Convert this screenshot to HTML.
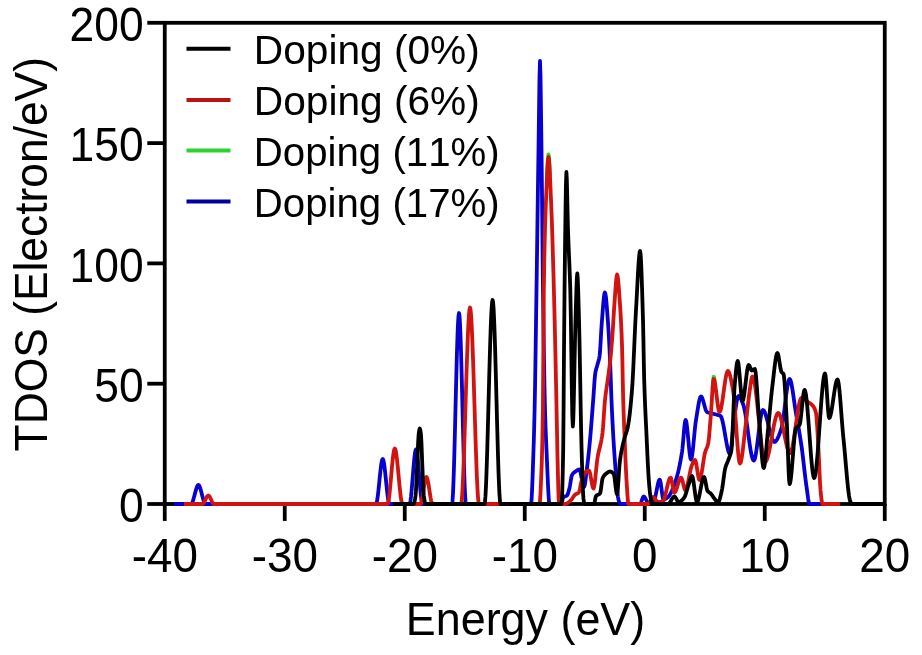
<!DOCTYPE html>
<html><head><meta charset="utf-8"><title>TDOS</title><style>html,body{margin:0;padding:0;background:#fff;}svg{display:block;will-change:transform;}</style></head><body>
<svg width="922" height="655" viewBox="0 0 922 655">
<rect width="922" height="655" fill="#fff"/>
<rect x="164.75" y="22.8" width="720.0" height="481.2" fill="none" stroke="#000" stroke-width="3.8"/>
<line x1="147.3" y1="504.00" x2="164.75" y2="504.00" stroke="#000" stroke-width="3.8"/>
<line x1="147.3" y1="383.70" x2="164.75" y2="383.70" stroke="#000" stroke-width="3.8"/>
<line x1="147.3" y1="263.40" x2="164.75" y2="263.40" stroke="#000" stroke-width="3.8"/>
<line x1="147.3" y1="143.10" x2="164.75" y2="143.10" stroke="#000" stroke-width="3.8"/>
<line x1="147.3" y1="22.80" x2="164.75" y2="22.80" stroke="#000" stroke-width="3.8"/>
<line x1="164.75" y1="504.0" x2="164.75" y2="520.9" stroke="#000" stroke-width="3.8"/>
<line x1="284.75" y1="504.0" x2="284.75" y2="520.9" stroke="#000" stroke-width="3.8"/>
<line x1="404.75" y1="504.0" x2="404.75" y2="520.9" stroke="#000" stroke-width="3.8"/>
<line x1="524.75" y1="504.0" x2="524.75" y2="520.9" stroke="#000" stroke-width="3.8"/>
<line x1="644.75" y1="504.0" x2="644.75" y2="520.9" stroke="#000" stroke-width="3.8"/>
<line x1="764.75" y1="504.0" x2="764.75" y2="520.9" stroke="#000" stroke-width="3.8"/>
<line x1="884.75" y1="504.0" x2="884.75" y2="520.9" stroke="#000" stroke-width="3.8"/>
<g fill="none" stroke-width="3.8" stroke-linejoin="round" stroke-linecap="butt">
<path d="M174,504 L191,504 L191.49,503.76 L191.99,503.08 L192.48,502.02 L192.97,500.67 L193.47,499.07 L193.96,497.31 L194.45,495.45 L194.95,493.55 L195.44,491.69 L195.93,489.93 L196.43,488.33 L196.92,486.98 L197.41,485.92 L197.91,485.24 L198.4,485 L198.87,485.24 L199.35,485.92 L199.82,486.98 L200.29,488.33 L200.77,489.93 L201.24,491.69 L201.71,493.55 L202.19,495.45 L202.66,497.31 L203.13,499.07 L203.61,500.67 L204.08,502.02 L204.55,503.08 L205.03,503.76 L205.5,504 L376,504 L376.48,503.34 L376.96,501.51 L377.44,498.69 L377.91,495.08 L378.39,490.88 L378.87,486.29 L379.35,481.5 L379.83,476.71 L380.31,472.12 L380.79,467.92 L381.26,464.31 L381.74,461.49 L382.22,459.66 L382.7,459 L383.19,459.66 L383.67,461.49 L384.16,464.31 L384.64,467.92 L385.13,472.12 L385.61,476.71 L386.1,481.5 L386.59,486.29 L387.07,490.88 L387.56,495.08 L388.04,498.69 L388.53,501.51 L389.01,503.34 L389.5,504 L409.5,504 L410,503.08 L410.5,500.53 L411,496.63 L411.5,491.7 L412,486.02 L412.5,479.89 L413,473.61 L413.5,467.48 L414,461.8 L414.5,456.87 L415,452.97 L415.5,450.42 L416,449.5 L416.5,450.42 L417,452.97 L417.5,456.87 L418,461.8 L418.5,467.48 L419,473.61 L419.5,479.89 L420,486.02 L420.5,491.7 L421,496.63 L421.5,500.53 L422,503.08 L422.5,504 L452,504 L452.5,501.22 L453,493.42 L453.5,481.45 L454,466.13 L454.5,448.31 L455,428.83 L455.5,408.5 L456,388.17 L456.5,368.69 L457,350.87 L457.5,335.55 L458,323.58 L458.5,315.78 L459,313 L459.5,315.78 L460,323.58 L460.5,335.55 L461,350.87 L461.5,368.69 L462,388.17 L462.5,408.5 L463,428.83 L463.5,448.31 L464,466.13 L464.5,481.45 L465,493.42 L465.5,501.22 L466,504 L531,504 L531.5,500.63 L532,491.72 L532.5,479.1 L533,464.58 L533.5,450 L533.87,438.74 L534.23,425.43 L534.6,410 L535.08,385.12 L535.55,355.06 L536.02,322.47 L536.5,290 L537,255.46 L537.5,219.4 L538,183.65 L538.5,150 L539,112.71 L539.5,76.97 L540,61 L540.5,76.01 L541,110.8 L541.5,150 L542,194.22 L542.5,245.36 L543,290 L543.5,326.11 L544,359.39 L544.5,387.97 L545,410 L545.5,425.99 L546,438.78 L546.5,450 L547,461.63 L547.5,473.76 L548,485.24 L548.5,494.88 L549,501.53 L549.5,504 L561,504 L561.5,503.33 L562,501.72 L562.5,499.74 L563,497.98 L563.5,497 L564,496.68 L564.5,496.47 L565,496.32 L565.5,496.19 L566,496.04 L566.5,495.82 L567,495.5 L567.5,494.77 L568,493.49 L568.5,491.82 L569,489.93 L569.5,488 L570,485.57 L570.5,482.47 L571,479.29 L571.5,476.61 L572,475 L572.5,474.21 L573,473.56 L573.5,473.02 L574,472.58 L574.5,472.19 L575,471.84 L575.5,471.5 L575.98,471.16 L576.45,470.82 L576.92,470.48 L577.4,470.17 L577.88,469.9 L578.35,469.69 L578.82,469.55 L579.3,469.5 L579.77,469.99 L580.24,471.32 L580.71,473.28 L581.18,475.66 L581.65,478.25 L582.12,480.84 L582.59,483.22 L583.06,485.18 L583.53,486.51 L584,487 L584.5,486.12 L585,483.75 L585.5,480.33 L586,476.28 L586.5,472.03 L587,468 L587.5,464.05 L588,459.76 L588.5,455.17 L589,450.32 L589.5,445.26 L590,440 L590.46,434.91 L590.91,429.46 L591.37,423.74 L591.83,417.84 L592.29,411.86 L592.74,405.88 L593.2,400 L593.62,394.18 L594.04,387.86 L594.46,381.75 L594.88,376.56 L595.3,373 L595.74,370.71 L596.18,368.95 L596.62,367.48 L597.06,366.08 L597.5,364.5 L597.92,362.98 L598.34,361.6 L598.76,360.13 L599.18,358.34 L599.6,356 L600.02,351.77 L600.44,345.25 L600.86,337.65 L601.28,330.16 L601.7,324 L602.16,318.18 L602.61,312.09 L603.07,306.16 L603.53,300.82 L603.99,296.48 L604.44,293.57 L604.9,292.5 L605.36,293.5 L605.81,296.26 L606.27,300.42 L606.73,305.64 L607.19,311.54 L607.64,317.78 L608.1,324 L608.54,330.54 L608.98,338.31 L609.42,347.05 L609.86,356.56 L610.3,366.6 L610.7,377.29 L611.1,389.21 L611.5,400 L612,411.33 L612.5,421.75 L613,431.3 L613.5,440 L614,447.99 L614.5,455.42 L615,462.36 L615.5,468.87 L616,475 L616.46,480.74 L616.92,486.58 L617.38,491.96 L617.84,496.29 L618.3,499 L618.74,500.57 L619.18,501.94 L619.62,503.02 L620.06,503.74 L620.5,504 L640,504 L640.46,503.68 L640.92,502.83 L641.39,501.63 L641.85,500.25 L642.31,498.87 L642.78,497.67 L643.24,496.82 L643.7,496.5 L644.18,496.68 L644.66,497.18 L645.14,497.9 L645.62,498.79 L646.1,499.75 L646.58,500.71 L647.06,501.6 L647.54,502.32 L648.02,502.82 L648.5,503 L649,502.97 L649.5,502.88 L650,502.73 L650.5,502.53 L651,502.29 L651.5,502 L652,501.66 L652.5,501.3 L653,500.89 L653.5,500.46 L654,500 L654.48,499.22 L654.95,497.87 L655.42,496.07 L655.9,493.94 L656.38,491.6 L656.85,489.18 L657.32,486.79 L657.8,484.57 L658.28,482.62 L658.75,481.08 L659.22,480.07 L659.7,479.7 L660.18,480.55 L660.65,482.79 L661.12,485.96 L661.6,489.6 L662.08,493.24 L662.55,496.41 L663.02,498.65 L663.5,499.5 L664,499.46 L664.5,499.33 L665,499.13 L665.5,498.87 L666,498.56 L666.5,498.21 L667,497.82 L667.5,497.42 L668,497 L668.5,496.53 L669,495.94 L669.5,495.26 L670,494.48 L670.5,493.61 L671,492.65 L671.5,491.61 L672,490.5 L672.5,489.32 L673,488.07 L673.5,486.77 L674,485.41 L674.5,484 L675,482.55 L675.5,481.07 L676,479.55 L676.5,478 L677,476.37 L677.5,474.59 L678,472.66 L678.5,470.58 L679,468.36 L679.5,465.99 L680,463.48 L680.5,460.82 L681,458.02 L681.5,455.08 L682,452 L682.45,448.45 L682.9,443.81 L683.35,438.55 L683.8,433.16 L684.25,428.13 L684.7,423.94 L685.15,421.06 L685.6,420 L686.09,420.92 L686.58,423.44 L687.07,427.21 L687.56,431.87 L688.05,437.06 L688.55,442.44 L689.04,447.63 L689.53,452.29 L690.02,456.06 L690.51,458.58 L691,459.5 L691.5,458.66 L692,456.33 L692.5,452.82 L693,448.42 L693.5,443.43 L694,438.15 L694.5,432.86 L695,427.88 L695.5,423.49 L696,420 L696.5,416.96 L697,413.78 L697.5,410.59 L698,407.48 L698.5,404.57 L699,401.94 L699.5,399.72 L700,398 L700.5,396.89 L701,396.5 L701.5,396.78 L702,397.58 L702.5,398.77 L703,400.29 L703.5,402.01 L704,403.86 L704.5,405.72 L705,407.51 L705.5,409.13 L706,410.49 L706.5,411.47 L707,412 L707.5,412.25 L708,412.46 L708.5,412.65 L709,412.81 L709.5,412.96 L710,413.08 L710.5,413.2 L711,413.31 L711.5,413.41 L712,413.52 L712.5,413.62 L713,413.74 L713.5,413.86 L714,414 L714.5,414.14 L715,414.27 L715.5,414.39 L716,414.5 L716.5,414.62 L717,414.74 L717.5,414.86 L718,415 L718.5,415.15 L719,415.33 L719.5,415.52 L720,415.75 L720.5,416 L721,416.55 L721.5,417.61 L722,419.12 L722.5,421.02 L723,423.25 L723.5,425.74 L724,428.43 L724.5,431.26 L725,434.18 L725.5,437.11 L726,439.99 L726.5,442.77 L727,445.38 L727.5,447.75 L728,449.84 L728.5,451.57 L729,452.88 L729.5,453.71 L730,454 L730.5,452.9 L731,449.92 L731.5,445.56 L732,440.29 L732.5,434.62 L733,429.02 L733.5,423.98 L734,420 L734.5,416.58 L735,412.99 L735.5,409.39 L736,405.93 L736.5,402.76 L737,400.03 L737.5,397.89 L738,396.5 L738.5,396 L738.97,396.13 L739.44,396.5 L739.91,397.09 L740.38,397.85 L740.85,398.76 L741.32,399.79 L741.79,400.91 L742.26,402.09 L742.73,403.3 L743.2,404.5 L743.68,405.95 L744.16,407.82 L744.65,410.07 L745.13,412.65 L745.61,415.51 L746.09,418.6 L746.57,421.87 L747.05,425.29 L747.54,428.79 L748.02,432.33 L748.5,435.86 L748.98,439.34 L749.46,442.71 L749.95,445.93 L750.43,448.95 L750.91,451.73 L751.39,454.21 L751.87,456.35 L752.35,458.09 L752.84,459.4 L753.32,460.22 L753.8,460.5 L754.28,460.1 L754.76,458.94 L755.24,457.12 L755.72,454.73 L756.19,451.85 L756.67,448.57 L757.15,444.99 L757.63,441.18 L758.11,437.24 L758.59,433.26 L759.07,429.32 L759.55,425.51 L760.03,421.93 L760.51,418.65 L760.98,415.77 L761.46,413.38 L761.94,411.56 L762.42,410.4 L762.9,410 L763.4,410.18 L763.9,410.68 L764.4,411.49 L764.9,412.57 L765.4,413.88 L765.9,415.4 L766.4,417.09 L766.9,418.92 L767.4,420.86 L767.9,422.89 L768.4,424.96 L768.9,427.04 L769.4,429.11 L769.9,431.14 L770.4,433.08 L770.9,434.91 L771.4,436.6 L771.9,438.12 L772.4,439.43 L772.9,440.51 L773.4,441.32 L773.9,441.82 L774.4,442 L774.89,441.9 L775.39,441.62 L775.88,441.17 L776.37,440.56 L776.86,439.81 L777.36,438.93 L777.85,437.94 L778.34,436.84 L778.84,435.67 L779.33,434.42 L779.82,433.11 L780.31,431.77 L780.81,430.39 L781.3,429 L781.79,427.28 L782.28,424.94 L782.76,422.07 L783.25,418.77 L783.74,415.13 L784.23,411.25 L784.72,407.21 L785.21,403.11 L785.69,399.05 L786.18,395.11 L786.67,391.4 L787.16,388 L787.65,385.01 L788.14,382.52 L788.62,380.63 L789.11,379.42 L789.6,379 L790.09,379.38 L790.58,380.47 L791.08,382.17 L791.57,384.4 L792.06,387.06 L792.55,390.08 L793.05,393.35 L793.54,396.79 L794.03,400.31 L794.52,403.82 L795.02,407.23 L795.51,410.45 L796,413.4 L796.49,416.16 L796.98,418.9 L797.47,421.65 L797.96,424.4 L798.45,427.19 L798.95,430.03 L799.44,432.92 L799.93,435.89 L800.42,438.95 L800.91,442.11 L801.4,445.4 L801.88,448.85 L802.36,452.57 L802.85,456.51 L803.33,460.6 L803.81,464.77 L804.29,468.97 L804.77,473.12 L805.25,477.16 L805.74,481.03 L806.22,484.67 L806.7,488 L807.17,491.31 L807.63,494.87 L808.1,498.3 L808.57,501.21 L809.03,503.24 L809.5,504 L820,504" stroke="#0800d0"/>
<path d="M547.00,175.52 L547.25,169.99 L547.50,164.97 L547.75,160.68 L548.00,157.33 L548.25,155.16 L548.50,154.40 L548.75,155.22 L549.00,157.53 L549.25,161.07 L549.50,165.56 L549.75,170.75 L550.00,176.41" stroke="#2ad82a"/>
<path d="M712.49,388.94 L712.73,385.20 L712.98,381.88 L713.22,379.21 L713.46,377.44 L713.70,376.80 L713.94,377.09 L714.18,377.91 L714.43,379.12 L714.67,380.58 L714.91,382.19" stroke="#2ad82a"/>
<path d="M184,504 L202.5,504 L202.98,503.83 L203.47,503.37 L203.95,502.67 L204.43,501.8 L204.92,500.8 L205.4,499.75 L205.88,498.7 L206.37,497.7 L206.85,496.83 L207.33,496.13 L207.82,495.67 L208.3,495.5 L208.78,495.67 L209.25,496.13 L209.73,496.83 L210.2,497.7 L210.68,498.7 L211.15,499.75 L211.62,500.8 L212.1,501.8 L212.58,502.67 L213.05,503.37 L213.52,503.83 L214,504 L387.5,504 L387.99,503.29 L388.47,501.3 L388.96,498.23 L389.45,494.26 L389.93,489.61 L390.42,484.46 L390.91,479.02 L391.39,473.48 L391.88,468.04 L392.37,462.89 L392.85,458.24 L393.34,454.27 L393.83,451.2 L394.31,449.21 L394.8,448.5 L395.28,449.12 L395.76,450.88 L396.24,453.62 L396.72,457.17 L397.21,461.37 L397.69,466.06 L398.17,471.07 L398.65,476.25 L399.13,481.43 L399.61,486.44 L400.09,491.13 L400.58,495.33 L401.06,498.88 L401.54,501.62 L402.02,503.38 L402.5,504 L420.5,504 L420.99,503.47 L421.48,502 L421.98,499.78 L422.47,497 L422.96,493.84 L423.45,490.5 L423.94,487.16 L424.43,484 L424.92,481.22 L425.42,479 L425.91,477.53 L426.4,477 L426.87,477.45 L427.34,478.72 L427.81,480.65 L428.28,483.1 L428.75,485.91 L429.22,488.95 L429.68,492.05 L430.15,495.09 L430.62,497.9 L431.09,500.35 L431.56,502.28 L432.03,503.55 L432.5,504 L461,504 L461.5,502.25 L462,497.26 L462.5,489.44 L463,479.2 L463.5,466.94 L464,453.06 L464.5,437.96 L465,422.06 L465.5,405.75 L466,389.44 L466.5,373.54 L467,358.44 L467.5,344.56 L468,332.3 L468.5,322.06 L469,314.24 L469.5,309.25 L470,307.5 L470.5,309.25 L471,314.24 L471.5,322.06 L472,332.3 L472.5,344.56 L473,358.44 L473.5,373.54 L474,389.44 L474.5,405.75 L475,422.06 L475.5,437.96 L476,453.06 L476.5,466.94 L477,479.2 L477.5,489.44 L478,497.26 L478.5,502.25 L479,504 L539.5,504 L540,501.03 L540.5,493.24 L541,482.34 L541.5,470 L541.97,456.25 L542.43,436.94 L542.9,410 L543.35,350.03 L543.8,290 L544.24,263.32 L544.68,242.06 L545.12,225.14 L545.56,211.48 L546,200 L546.5,187.71 L547,176.07 L547.5,166.27 L548,159.52 L548.5,157 L549,159.71 L549.5,166.86 L550,176.95 L550.5,188.5 L551,200 L551.48,211.58 L551.97,224.91 L552.45,239.69 L552.93,255.65 L553.42,272.52 L553.9,290 L554.35,307.37 L554.8,326.28 L555.25,346.36 L555.7,367.25 L556.15,388.58 L556.6,410 L557,430.77 L557.4,452.23 L557.8,470 L558.2,485.25 L558.6,498.4 L559,504 L566,504 L566.45,503.82 L566.9,503.5 L567.36,503.19 L567.82,502.86 L568.28,502.51 L568.74,502.14 L569.2,501.74 L569.66,501.33 L570.12,500.9 L570.58,500.45 L571.04,499.98 L571.5,499.5 L571.96,498.95 L572.42,498.3 L572.89,497.6 L573.35,496.87 L573.81,496.16 L574.28,495.51 L574.74,494.94 L575.2,494.5 L575.65,494.19 L576.1,493.96 L576.55,493.77 L577,493.6 L577.45,493.42 L577.9,493.19 L578.35,492.9 L578.8,492.5 L579.27,491.5 L579.73,489.68 L580.2,487.38 L580.67,484.94 L581.13,482.7 L581.6,481 L582.06,479.71 L582.52,478.44 L582.98,477.21 L583.44,476.05 L583.9,474.97 L584.36,473.99 L584.82,473.13 L585.28,472.42 L585.74,471.87 L586.2,471.5 L586.65,471.24 L587.1,471 L587.55,470.8 L588,470.64 L588.45,470.54 L588.9,470.5 L589.36,471 L589.82,472.37 L590.28,474.39 L590.74,476.84 L591.2,479.5 L591.66,482.16 L592.12,484.61 L592.58,486.63 L593.04,488 L593.5,488.5 L594,487.52 L594.5,484.88 L595,480.99 L595.5,476.29 L596,471.22 L596.5,466.19 L597,461.64 L597.5,458 L598,455.18 L598.5,452.73 L599,450.53 L599.5,448.48 L600,446.47 L600.5,444.38 L601,442.09 L601.5,439.51 L602,436.52 L602.5,433 L603,427.89 L603.5,420.92 L604,413.21 L604.5,405.86 L605,400 L605.5,395.6 L606,391.77 L606.5,388.31 L607,385 L607.5,381.63 L608,378 L608.5,374.24 L609,370.52 L609.5,366.68 L610,362.56 L610.5,358 L611,352.8 L611.5,346.96 L612,340.65 L612.5,334 L613,326.56 L613.5,318.35 L614,310.21 L614.5,303 L614.93,297 L615.37,290.63 L615.8,284.55 L616.23,279.4 L616.67,275.83 L617.1,274.5 L617.57,275.72 L618.03,279.05 L618.5,283.95 L618.97,289.93 L619.43,296.45 L619.9,303 L620.32,309.11 L620.74,316.11 L621.16,324.25 L621.58,333.79 L622,345 L622.4,361.39 L622.8,382.31 L623.2,400 L623.67,414.06 L624.13,425.83 L624.6,437 L625.08,448.86 L625.55,460.58 L626.02,471.26 L626.5,480 L627,488.17 L627.5,495.93 L628,501.72 L628.5,504 L648,504 L648.5,503.8 L649,503.27 L649.5,502.49 L650,501.54 L650.5,500.5 L651,499.46 L651.5,498.51 L652,497.73 L652.5,497.2 L653,497 L653.5,497.14 L654,497.52 L654.5,498.08 L655,498.76 L655.5,499.5 L656,500.24 L656.5,500.92 L657,501.48 L657.5,501.86 L658,502 L658.92,501.98 L659.38,501.95 L659.84,501.91 L660.3,501.86 L660.76,501.8 L661.22,501.74 L661.68,501.67 L662.14,501.59 L662.6,501.5 L663.1,501.15 L663.6,500.32 L664.1,499.1 L664.6,497.55 L665.1,495.73 L665.6,493.71 L666.1,491.56 L666.6,489.36 L667.1,487.15 L667.6,485.03 L668.1,483.04 L668.6,481.26 L669.1,479.76 L669.6,478.61 L670.1,477.86 L670.6,477.6 L671.08,478.24 L671.55,479.93 L672.02,482.31 L672.5,485.05 L672.98,487.79 L673.45,490.17 L673.92,491.86 L674.4,492.5 L674.88,492.28 L675.36,491.67 L675.84,490.74 L676.31,489.55 L676.79,488.16 L677.27,486.64 L677.75,485.05 L678.23,483.46 L678.71,481.94 L679.19,480.55 L679.66,479.36 L680.14,478.43 L680.62,477.82 L681.1,477.6 L681.57,478.03 L682.03,479.16 L682.5,480.81 L682.97,482.77 L683.43,484.83 L683.9,486.79 L684.37,488.44 L684.83,489.57 L685.3,490 L685.78,489.71 L686.26,488.87 L686.74,487.58 L687.21,485.9 L687.69,483.92 L688.17,481.71 L688.65,479.34 L689.13,476.9 L689.61,474.46 L690.09,472.1 L690.56,469.9 L691.04,467.93 L691.52,466.27 L692,465 L692.5,463.87 L693,462.73 L693.5,461.68 L694,460.81 L694.5,460.22 L695,460 L695.5,460.69 L696,462.52 L696.5,465.19 L697,468.34 L697.5,471.66 L698,474.81 L698.5,477.48 L699,479.31 L699.5,480 L699.98,479.58 L700.45,478.39 L700.92,476.57 L701.4,474.23 L701.88,471.5 L702.35,468.51 L702.82,465.38 L703.3,462.24 L703.78,459.2 L704.25,456.4 L704.72,453.96 L705.2,452 L705.7,450.46 L706.2,449.22 L706.7,448.09 L707.2,446.88 L707.7,445.38 L708.2,443.4 L708.63,440.67 L709.07,436.7 L709.5,431.86 L709.93,426.52 L710.37,421.04 L710.8,415.8 L711.28,409.2 L711.77,401.3 L712.25,393.22 L712.73,386.06 L713.22,380.95 L713.7,379 L714.18,379.65 L714.67,381.44 L715.15,384.16 L715.63,387.56 L716.12,391.41 L716.6,395.5 L717.08,399.59 L717.57,403.44 L718.05,406.84 L718.53,409.56 L719.02,411.35 L719.5,412 L719.99,411.59 L720.49,410.43 L720.98,408.62 L721.48,406.26 L721.97,403.45 L722.46,400.28 L722.96,396.87 L723.45,393.31 L723.95,389.69 L724.44,386.13 L724.94,382.72 L725.43,379.55 L725.92,376.74 L726.42,374.38 L726.91,372.57 L727.41,371.41 L727.9,371 L728.36,371.24 L728.83,371.92 L729.29,372.99 L729.75,374.41 L730.22,376.12 L730.68,378.09 L731.15,380.26 L731.61,382.58 L732.07,385.01 L732.54,387.5 L733,390 L733.5,393.38 L734,398.01 L734.5,403.65 L735,410.05 L735.5,416.97 L736,424.18 L736.5,431.45 L737,438.51 L737.5,445.15 L738,451.12 L738.5,456.18 L739,460.09 L739.5,462.61 L740,463.5 L740.48,463.01 L740.97,461.61 L741.45,459.42 L741.93,456.56 L742.42,453.16 L742.9,449.32 L743.38,445.18 L743.87,440.85 L744.35,436.44 L744.83,432.09 L745.32,427.9 L745.8,424 L746.26,420.23 L746.72,416.14 L747.19,411.84 L747.65,407.47 L748.11,403.17 L748.58,399.07 L749.04,395.3 L749.5,392 L749.98,388.66 L750.47,385.17 L750.95,381.88 L751.43,379.11 L751.92,377.21 L752.4,376.5 L752.89,376.87 L753.38,377.94 L753.88,379.65 L754.37,381.95 L754.86,384.77 L755.35,388.06 L755.85,391.76 L756.34,395.8 L756.83,400.14 L757.32,404.71 L757.82,409.46 L758.31,414.33 L758.8,419.25 L759.29,424.17 L759.78,429.04 L760.28,433.79 L760.77,438.36 L761.26,442.7 L761.75,446.74 L762.25,450.44 L762.74,453.73 L763.23,456.55 L763.72,458.85 L764.22,460.56 L764.71,461.63 L765.2,462 L765.7,461.79 L766.2,461.17 L766.7,460.19 L767.2,458.88 L767.7,457.26 L768.2,455.38 L768.7,453.26 L769.2,450.94 L769.7,448.45 L770.2,445.83 L770.7,443.11 L771.2,440.32 L771.7,437.5 L772.2,434.68 L772.7,431.89 L773.2,429.17 L773.7,426.55 L774.2,424.06 L774.7,421.74 L775.2,419.62 L775.7,417.74 L776.2,416.12 L776.7,414.81 L777.2,413.83 L777.7,413.21 L778.2,413 L778.69,413.2 L779.18,413.79 L779.68,414.72 L780.17,415.96 L780.66,417.48 L781.15,419.25 L781.64,421.22 L782.13,423.37 L782.62,425.66 L783.12,428.05 L783.61,430.51 L784.1,433 L784.59,435.49 L785.08,437.95 L785.58,440.34 L786.07,442.63 L786.56,444.78 L787.05,446.75 L787.54,448.52 L788.03,450.04 L788.52,451.28 L789.02,452.21 L789.51,452.8 L790,453 L790.5,452.7 L791,451.82 L791.5,450.44 L792,448.59 L792.5,446.33 L793,443.72 L793.5,440.82 L794,437.67 L794.5,434.33 L795,430.85 L795.5,427.29 L796,423.71 L796.5,420.15 L797,416.67 L797.5,413.33 L798,410.18 L798.5,407.28 L799,404.67 L799.5,402.41 L800,400.56 L800.5,399.18 L801,398.3 L801.5,398 L802,398.04 L802.5,398.16 L803,398.35 L803.5,398.6 L804,398.91 L804.5,399.25 L805,399.62 L805.5,400.02 L806,400.43 L806.5,400.84 L807,401.24 L807.5,401.63 L808,402 L808.5,402.34 L809,402.67 L809.5,402.99 L810,403.32 L810.5,403.66 L811,404.03 L811.5,404.44 L812,404.9 L812.5,405.42 L813,406 L813.5,406.66 L814,407.45 L814.5,408.42 L815,409.63 L815.5,411.14 L816,413 L816.5,416.8 L817,423.4 L817.5,431.81 L818,441.01 L818.5,450 L819,460.09 L819.5,471.68 L820,482.44 L820.5,490 L821,495.1 L821.5,499.59 L822,502.78 L822.5,504 L840,504" stroke="#d21410"/>
<path d="M393,504 L413.5,504 L414,503.38 L414.5,501.67 L415,499.13 L415.5,496 L415.92,491.13 L416.35,483.28 L416.78,474.03 L417.2,465 L417.67,454.01 L418.13,442.5 L418.6,435 L419,431.8 L419.4,429.43 L419.8,428.5 L420.2,429.41 L420.6,431.77 L421,435 L421.43,442.35 L421.87,453.86 L422.3,465 L422.8,477.12 L423.3,488.85 L423.8,496 L424.3,499.2 L424.8,501.73 L425.3,503.4 L425.8,504 L484.5,504 L484.98,501.97 L485.45,496.19 L485.93,487.18 L486.41,475.43 L486.88,461.44 L487.36,445.7 L487.84,428.72 L488.31,410.99 L488.79,393.01 L489.26,375.28 L489.74,358.3 L490.22,342.56 L490.69,328.57 L491.17,316.82 L491.65,307.81 L492.12,302.03 L492.6,300 L493.09,302.29 L493.59,308.77 L494.08,318.83 L494.58,331.88 L495.07,347.31 L495.56,364.55 L496.06,382.97 L496.55,402 L497.04,421.03 L497.54,439.45 L498.03,456.69 L498.52,472.12 L499.02,485.17 L499.51,495.23 L500.01,501.71 L500.5,504 L561.5,504 L561.92,499.91 L562.35,488.59 L562.78,471.48 L563.2,450 L563.6,405.7 L564,350 L564.5,295.14 L565,250 L565.47,214.7 L565.93,184.68 L566.4,172 L566.8,178.76 L567.2,194.87 L567.6,214.04 L568,230 L568.46,242.67 L568.92,253.51 L569.38,264.01 L569.84,275.67 L570.3,290 L570.8,315.44 L571.3,350.7 L571.8,386.88 L572.3,415.11 L572.8,426.5 L573.25,420.54 L573.7,405.05 L574.15,383.64 L574.6,359.93 L575.05,337.51 L575.5,320 L575.95,304.94 L576.4,289.82 L576.85,278.17 L577.3,273.5 L577.72,278 L578.15,289.39 L578.58,304.45 L579,320 L579.43,338.04 L579.87,360.6 L580.3,385.38 L580.73,410.08 L581.17,432.38 L581.6,450 L582.08,465.9 L582.55,480.59 L583.02,492.23 L583.5,499 L584,502.48 L584.5,504 L594,504 L594.5,502.86 L595,500.29 L595.5,497.58 L596,496 L596.5,495.51 L597,495.17 L597.5,494.94 L598,494.76 L598.5,494.57 L599,494.34 L599.5,494 L600,493.5 L600.45,492.11 L600.9,489.43 L601.35,486.06 L601.8,482.63 L602.25,479.74 L602.7,478 L603.15,477.11 L603.6,476.35 L604.05,475.7 L604.5,475.14 L604.95,474.65 L605.4,474.23 L605.85,473.85 L606.3,473.5 L606.76,473.15 L607.22,472.79 L607.69,472.46 L608.15,472.15 L608.61,471.89 L609.08,471.68 L609.54,471.55 L610,471.5 L610.46,471.54 L610.92,471.68 L611.39,471.89 L611.85,472.18 L612.31,472.54 L612.78,472.97 L613.24,473.46 L613.7,474 L614.17,475.54 L614.64,478.56 L615.11,482.44 L615.59,486.56 L616.06,490.27 L616.53,492.96 L617,494 L617.5,491.97 L618,486.76 L618.5,479.65 L619,471.96 L619.5,464.97 L620,460 L620.5,456.66 L621,453.67 L621.5,450.98 L622,448.52 L622.5,446.26 L623,444.12 L623.5,442.05 L624,440 L624.5,438.1 L625,436.44 L625.5,434.93 L626,433.46 L626.5,431.94 L627,430.25 L627.5,428.31 L628,426 L628.5,423.2 L629,419.87 L629.5,416.02 L630,411.69 L630.5,406.89 L631,401.66 L631.5,396.02 L632,390 L632.5,382.73 L633,373.66 L633.5,363.3 L634,352.17 L634.5,340.76 L635,329.59 L635.5,319.17 L636,310 L636.46,301.95 L636.91,293.32 L637.37,284.53 L637.82,275.98 L638.28,268.07 L638.73,261.21 L639.19,255.81 L639.64,252.27 L640.1,251 L640.58,253.83 L641.07,261.61 L641.55,273.21 L642.03,287.54 L642.52,303.51 L643,320 L643.4,338.6 L643.8,361.49 L644.2,380 L644.66,394.03 L645.12,405.73 L645.58,415.93 L646.04,425.42 L646.5,435 L646.96,445.06 L647.42,455.09 L647.88,464.6 L648.34,473.07 L648.8,480 L649.22,485.27 L649.65,489.93 L650.08,493.87 L650.5,497 L651,500.22 L651.5,502.89 L652,504 L668,504 L668.49,503.87 L668.98,503.52 L669.48,502.99 L669.97,502.31 L670.46,501.53 L670.95,500.68 L671.45,499.82 L671.94,498.97 L672.43,498.19 L672.92,497.51 L673.42,496.98 L673.91,496.63 L674.4,496.5 L674.87,496.69 L675.33,497.19 L675.8,497.93 L676.27,498.79 L676.73,499.71 L677.2,500.57 L677.67,501.31 L678.13,501.81 L678.6,502 L679.09,501.96 L679.58,501.83 L680.07,501.62 L680.56,501.34 L681.05,501 L681.55,500.6 L682.04,500.15 L682.53,499.66 L683.02,499.13 L683.51,498.58 L684,498 L684.47,497.28 L684.94,496.27 L685.41,495.04 L685.88,493.62 L686.35,492.08 L686.82,490.47 L687.29,488.85 L687.76,487.26 L688.23,485.76 L688.7,484.4 L689.17,483 L689.64,481.44 L690.11,479.85 L690.59,478.37 L691.06,477.15 L691.53,476.31 L692,476 L692.5,476.73 L693,478.7 L693.5,481.62 L694,485.15 L694.5,489 L695,492.85 L695.5,496.38 L696,499.3 L696.5,501.27 L697,502 L697.5,501.64 L698,500.62 L698.5,499.05 L699,497.04 L699.5,494.71 L700,492.16 L700.5,489.5 L701,486.84 L701.5,484.29 L702,481.96 L702.5,479.95 L703,478.38 L703.5,477.36 L704,477 L704.45,477.54 L704.9,478.97 L705.35,481.01 L705.8,483.41 L706.25,485.88 L706.7,488.15 L707.15,489.95 L707.6,491 L708.04,491.51 L708.49,491.91 L708.93,492.23 L709.37,492.51 L709.81,492.79 L710.26,493.11 L710.7,493.5 L711.15,494 L711.6,494.57 L712.05,495.19 L712.5,495.85 L712.95,496.52 L713.4,497.19 L713.85,497.82 L714.3,498.4 L714.76,499.01 L715.22,499.68 L715.69,500.36 L716.15,501.02 L716.61,501.6 L717.08,502.07 L717.54,502.39 L718,502.5 L718.46,502.22 L718.92,501.43 L719.39,500.22 L719.85,498.69 L720.31,496.91 L720.78,494.98 L721.24,492.98 L721.7,491 L722.15,488.75 L722.6,485.91 L723.05,482.69 L723.5,479.29 L723.95,475.92 L724.4,472.77 L724.85,470.06 L725.3,468 L725.76,466.44 L726.21,465.13 L726.67,463.97 L727.13,462.91 L727.59,461.86 L728.04,460.75 L728.5,459.5 L728.98,458.18 L729.47,456.96 L729.95,455.69 L730.43,454.21 L730.92,452.36 L731.4,450 L731.87,445.14 L732.34,436.63 L732.81,425.78 L733.29,413.89 L733.76,402.26 L734.23,392.2 L734.7,385 L735.2,379.3 L735.7,373.75 L736.2,368.76 L736.7,364.71 L737.2,361.99 L737.7,361 L738.18,362.12 L738.66,365.16 L739.14,369.64 L739.62,375.08 L740.1,381 L740.58,386.92 L741.06,392.36 L741.54,396.84 L742.02,399.88 L742.5,401 L742.98,400.39 L743.45,398.71 L743.93,396.13 L744.41,392.87 L744.88,389.12 L745.36,385.07 L745.84,380.93 L746.32,376.88 L746.79,373.13 L747.27,369.87 L747.75,367.29 L748.22,365.61 L748.7,365 L749.14,365.3 L749.59,366.09 L750.03,367.16 L750.47,368.34 L750.91,369.41 L751.36,370.2 L751.8,370.5 L752.3,370.39 L752.8,370.11 L753.3,369.75 L753.8,369.39 L754.3,369.11 L754.8,369 L755.27,370.17 L755.73,373.39 L756.2,378.24 L756.67,384.3 L757.13,391.15 L757.6,398.37 L758.07,405.53 L758.53,412.21 L759,418 L759.47,423.64 L759.94,429.9 L760.41,436.5 L760.88,443.14 L761.35,449.54 L761.82,455.43 L762.29,460.5 L762.76,464.48 L763.23,467.07 L763.7,468 L764.18,467.14 L764.66,464.76 L765.13,461.14 L765.61,456.59 L766.09,451.39 L766.57,445.84 L767.04,440.23 L767.52,434.85 L768,430 L768.48,425.35 L768.96,420.44 L769.43,415.37 L769.91,410.23 L770.39,405.12 L770.87,400.12 L771.34,395.34 L771.82,390.87 L772.3,386.8 L772.76,382.93 L773.23,378.87 L773.69,374.72 L774.15,370.61 L774.62,366.66 L775.08,362.98 L775.55,359.71 L776.01,356.95 L776.47,354.84 L776.94,353.48 L777.4,353 L777.86,353.58 L778.31,355.16 L778.77,357.46 L779.22,360.23 L779.68,363.22 L780.13,366.14 L780.59,368.76 L781.04,370.8 L781.5,372 L782,372.58 L782.5,372.94 L783,373.34 L783.5,374 L783.94,376.07 L784.39,380.4 L784.83,386.46 L785.27,393.76 L785.71,401.79 L786.16,410.04 L786.6,418 L787.1,428.89 L787.6,442.79 L788.1,457.48 L788.6,470.73 L789.1,480.31 L789.6,484 L790.09,483.11 L790.58,480.62 L791.08,476.81 L791.57,471.96 L792.06,466.36 L792.55,460.29 L793.05,454.01 L793.54,447.83 L794.03,442.01 L794.52,436.83 L795.02,432.59 L795.51,429.55 L796,428 L796.5,427.39 L797,426.96 L797.5,426.65 L798,426.36 L798.5,426.04 L799,425.61 L799.5,425 L799.96,423.63 L800.43,421.05 L800.89,417.54 L801.35,413.39 L801.82,408.88 L802.28,404.28 L802.75,399.89 L803.21,395.99 L803.67,392.85 L804.14,390.76 L804.6,390 L805.08,390.64 L805.56,392.46 L806.04,395.35 L806.52,399.15 L807,403.75 L807.48,409.01 L807.96,414.79 L808.44,420.98 L808.92,427.42 L809.4,434 L809.88,440.58 L810.36,447.02 L810.84,453.21 L811.32,458.99 L811.8,464.25 L812.28,468.85 L812.76,472.65 L813.24,475.54 L813.72,477.36 L814.2,478 L814.69,477.37 L815.18,475.57 L815.67,472.7 L816.16,468.89 L816.65,464.26 L817.15,458.92 L817.64,452.99 L818.13,446.6 L818.62,439.84 L819.11,432.86 L819.6,425.75 L820.09,418.64 L820.58,411.66 L821.07,404.9 L821.56,398.51 L822.05,392.58 L822.55,387.24 L823.04,382.61 L823.53,378.8 L824.02,375.93 L824.51,374.13 L825,373.5 L825.47,375.03 L825.93,379.12 L826.4,385.04 L826.87,392.06 L827.33,399.44 L827.8,406.46 L828.27,412.38 L828.73,416.47 L829.2,418 L829.69,417.62 L830.18,416.53 L830.66,414.83 L831.15,412.61 L831.64,409.97 L832.13,407 L832.62,403.79 L833.11,400.45 L833.59,397.05 L834.08,393.71 L834.57,390.5 L835.06,387.53 L835.55,384.89 L836.04,382.67 L836.52,380.97 L837.01,379.88 L837.5,379.5 L837.99,380.3 L838.48,382.54 L838.98,386.03 L839.47,390.53 L839.96,395.85 L840.45,401.78 L840.94,408.08 L841.43,414.57 L841.92,421.01 L842.42,427.21 L842.91,432.94 L843.4,438 L843.87,442.67 L844.35,447.66 L844.82,452.89 L845.29,458.28 L845.77,463.72 L846.24,469.13 L846.71,474.43 L847.19,479.52 L847.66,484.32 L848.13,488.73 L848.61,492.68 L849.08,496.07 L849.55,498.81 L850.03,500.82 L850.5,502 L851,502.75 L851.5,503.39 L852,503.83 L852.5,504 L884.75,504" stroke="#000000"/>
</g>
<text transform="translate(143.6,522.2) scale(0.925,1)" font-family="Liberation Sans" font-size="48" text-anchor="end">0</text>
<text transform="translate(143.6,401.9) scale(0.925,1)" font-family="Liberation Sans" font-size="48" text-anchor="end">50</text>
<text transform="translate(143.6,281.6) scale(0.925,1)" font-family="Liberation Sans" font-size="48" text-anchor="end">100</text>
<text transform="translate(143.6,161.3) scale(0.925,1)" font-family="Liberation Sans" font-size="48" text-anchor="end">150</text>
<text transform="translate(143.6,41.0) scale(0.925,1)" font-family="Liberation Sans" font-size="48" text-anchor="end">200</text>
<text transform="translate(164.75,572) scale(0.955,1)" font-family="Liberation Sans" font-size="48" text-anchor="middle">-40</text>
<text transform="translate(284.75,572) scale(0.955,1)" font-family="Liberation Sans" font-size="48" text-anchor="middle">-30</text>
<text transform="translate(404.75,572) scale(0.955,1)" font-family="Liberation Sans" font-size="48" text-anchor="middle">-20</text>
<text transform="translate(524.75,572) scale(0.955,1)" font-family="Liberation Sans" font-size="48" text-anchor="middle">-10</text>
<text transform="translate(644.75,572) scale(0.955,1)" font-family="Liberation Sans" font-size="48" text-anchor="middle">0</text>
<text transform="translate(764.75,572) scale(0.955,1)" font-family="Liberation Sans" font-size="48" text-anchor="middle">10</text>
<text transform="translate(884.75,572) scale(0.955,1)" font-family="Liberation Sans" font-size="48" text-anchor="middle">20</text>
<text transform="translate(525.5,635) scale(0.955,1)" font-family="Liberation Sans" font-size="47" text-anchor="middle">Energy (eV)</text>
<text transform="translate(46.6,254.2) rotate(-90) scale(0.944,1)" x="0" y="0" font-family="Liberation Sans" font-size="47" text-anchor="middle">TDOS (Electron/eV)</text>
<line x1="186.5" y1="48.7" x2="230.5" y2="48.7" stroke="#000" stroke-width="4"/>
<text transform="translate(253.8,64.3) scale(0.98,1)" font-family="Liberation Sans" font-size="41.5" style="font-kerning:none">Doping (0%)</text>
<line x1="186.5" y1="99.9" x2="230.5" y2="99.9" stroke="#b81212" stroke-width="4"/>
<text transform="translate(253.8,115.4) scale(0.98,1)" font-family="Liberation Sans" font-size="41.5" style="font-kerning:none">Doping (6%)</text>
<line x1="186.5" y1="150.5" x2="230.5" y2="150.5" stroke="#2ad42a" stroke-width="4"/>
<text transform="translate(253.8,166.1) scale(0.969,1)" font-family="Liberation Sans" font-size="41.5" style="font-kerning:none">Doping (11%)</text>
<line x1="186.5" y1="201.4" x2="230.5" y2="201.4" stroke="#00009c" stroke-width="4"/>
<text transform="translate(253.8,217.0) scale(0.969,1)" font-family="Liberation Sans" font-size="41.5" style="font-kerning:none">Doping (17%)</text>
</svg>
</body></html>
